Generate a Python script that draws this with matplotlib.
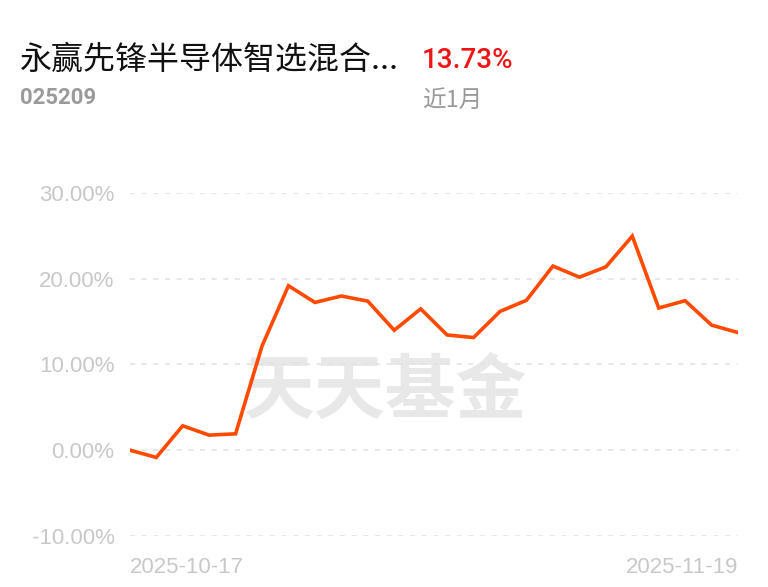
import matplotlib

matplotlib.use("Agg")
import matplotlib.pyplot as plt
from matplotlib.ticker import FuncFormatter

plt.rcParams["font.family"] = ["Noto Sans CJK SC", "DejaVu Sans"]

# 近1月收益率走势 (%)
dates = ["2025-10-17", "2025-10-20", "2025-10-21", "2025-10-22", "2025-10-23", "2025-10-24",
         "2025-10-27", "2025-10-28", "2025-10-29", "2025-10-30", "2025-10-31",
         "2025-11-03", "2025-11-04", "2025-11-05", "2025-11-06", "2025-11-07",
         "2025-11-10", "2025-11-11", "2025-11-12", "2025-11-13", "2025-11-14",
         "2025-11-17", "2025-11-18", "2025-11-19"]
returns = [0.0, -0.86, 2.84, 1.75, 1.9, 12.15, 19.2, 17.25, 18.0, 17.4, 14.0, 16.5,
           13.45, 13.15, 16.2, 17.5, 21.5, 20.2, 21.4, 25.0, 16.6, 17.45, 14.6, 13.73]
yticks = [-10, 0, 10, 20, 30]
x_labels = [dates[0], dates[-1]]

LINE, GRID, TICK, GREY, RED = "#ff4a00", "#e3e3e3", "#c8c8c8", "#9a9a9a", "#f01414"

fig = plt.figure(figsize=(7.68, 5.87), dpi=100, facecolor="white")
ax = fig.add_axes([0.169, 0.0874, 0.792, 0.5833])

x = list(range(len(returns)))
ax.plot(x, returns, color=LINE, lw=2.6, solid_joinstyle="miter", zorder=3)

ax.set_xlim(0, len(returns) - 1)
ax.set_ylim(yticks[0], yticks[-1])
ax.set_yticks(yticks)
ax.yaxis.set_major_formatter(FuncFormatter(lambda v, _: f"{v:.2f}%"))
ax.grid(axis="y", color=GRID, lw=1.2, ls=(0, (3, 4)))
ax.tick_params(axis="y", length=0, pad=11, labelsize=16, labelcolor=TICK)
for lab in ax.get_yticklabels():
    lab.set_fontfamily(["Liberation Sans", "DejaVu Sans"])

ax.set_xticks([0, len(returns) - 1])
ax.set_xticklabels(x_labels)
ax.tick_params(axis="x", length=0, pad=15, labelsize=16, labelcolor=TICK)
xl = ax.get_xticklabels()
xl[0].set_ha("left")
xl[1].set_ha("right")
for lab in xl:
    lab.set_fontfamily(["Liberation Sans", "DejaVu Sans"])

for s in ax.spines.values():
    s.set_visible(False)

# 水印
ax.text(0.42, 0.42, "天天基金", transform=ax.transAxes, fontsize=51, fontweight="bold",
        color="#e8e8e8", ha="center", va="center", zorder=1)

# 标题区
fig.text(20 / 768, 1 - 60 / 587, "永赢先锋半导体智选混合...", fontsize=23, color="#111111",
         ha="left", va="center")
fig.text(422 / 768, 1 - 60 / 587, f"{returns[-1]:.2f}%", fontsize=20, color=RED,
         ha="left", va="center", family=["Roboto", "DejaVu Sans"], fontweight="medium")
fig.text(20 / 768, 1 - 98 / 587, "025209", fontsize=16, color=GREY, ha="left", va="center",
         fontweight="bold", family=["Roboto", "DejaVu Sans"])
fig.text(422 / 768, 1 - 100 / 587, "近1月", fontsize=17, color=GREY, ha="left", va="center")

fig.savefig("out.png", dpi=100, facecolor="white")
